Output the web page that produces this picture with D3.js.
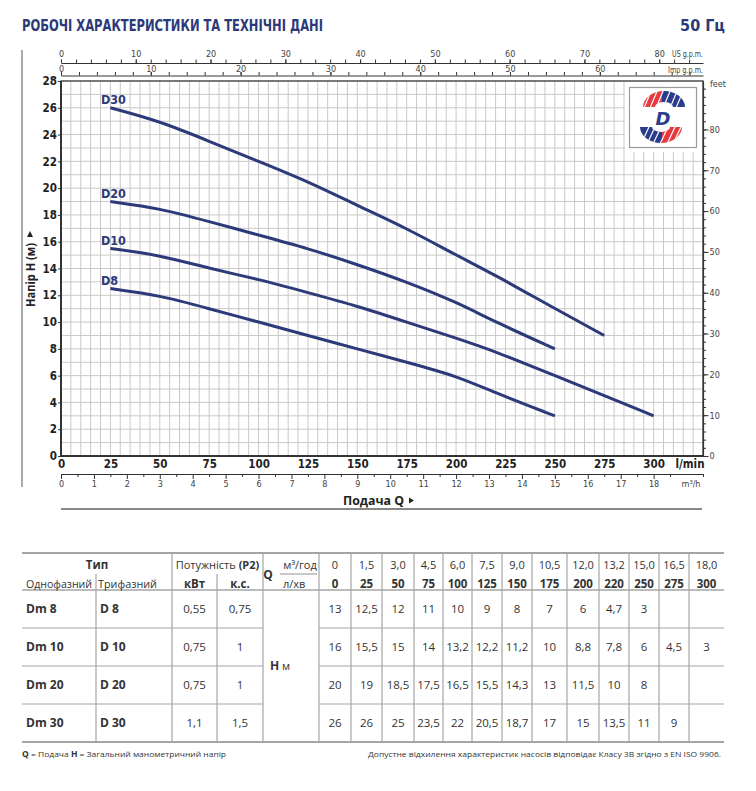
<!DOCTYPE html>
<html><head><meta charset="utf-8">
<script src="https://cdn.jsdelivr.net/npm/d3@7"></script>
<style>body{margin:0;background:#fff}</style>
</head><body><svg id="c" width="756" height="791"></svg>
<script>
// ---------- DATA ----------
const flowLmin = [0,25,50,75,100,125,150,175,200,220,250,275,300];
const flowM3h  = ["0","1,5","3,0","4,5","6,0","7,5","9,0","10,5","12,0","13,2","15,0","16,5","18,0"];
const modelsSingle = ["Dm 8","Dm 10","Dm 20","Dm 30"];
const modelsThree  = ["D 8","D 10","D 20","D 30"];
const curveNames   = ["D8","D10","D20","D30"];
const powerKW = ["0,55","0,75","0,75","1,1"];
const powerHP = ["0,75","1","1","1,5"];
const headD8  = [13,12.5,12,11,10,9,8,7,6,4.7,3,null,null];
const headD10 = [16,15.5,15,14,13.2,12.2,11.2,10,8.8,7.8,6,4.5,3];
const headD20 = [20,19,18.5,17.5,16.5,15.5,14.3,13,11.5,10,8,null,null];
const headD30 = [26,26,25,23.5,22,20.5,18.7,17,15,13.5,11,9,null];
const headSeries = [headD8, headD10, headD20, headD30];
const yTickLabels   = [0,2,4,6,8,10,12,14,16,18,20,22,24,26,28];
const xTickLabels   = [0,25,50,75,100,125,150,175,200,225,250,275,300];
const m3hTickLabels = [0,1,2,3,4,5,6,7,8,9,10,11,12,13,14,15,16,17,18];
const usTickLabels  = [0,10,20,30,40,50,60,70,80];
const impTickLabels = [0,10,20,30,40,50,60];
const feetTickLabels= [0,10,20,30,40,50,60,70,80];

// ---------- SETUP ----------
const svg = d3.select("#c");
const NAVY = "#2c3a7a";
const COND = "'Liberation Sans Narrow','DejaVu Sans Condensed','Arial Narrow',sans-serif";
const SANS = "'Open Sans','Noto Sans',sans-serif";
const P = {l:61, r:703, t:81, b:456};

const x = d3.scaleLinear([0,325],[P.l,P.r]);
const y = d3.scaleLinear([0,28],[P.b,P.t]);
const xUS  = d3.scaleLinear([0,325/3.78541],[P.l,P.r]);
const xImp = d3.scaleLinear([0,325/4.54609],[P.l,P.r]);
const xM3  = d3.scaleLinear([0,19.5],[P.l,P.r]);
const yFt  = d3.scaleLinear([0,28/0.3048],[P.b,P.t]);

// Title
svg.append("text").attr("x",22).attr("y",31).attr("font-family",COND).attr("font-weight","bold")
  .attr("font-size",16).attr("fill",NAVY).attr("textLength",301).attr("lengthAdjust","spacingAndGlyphs")
  .text("РОБОЧІ ХАРАКТЕРИСТИКИ ТА ТЕХНІЧНІ ДАНІ");
svg.append("text").attr("x",725).attr("y",31).attr("text-anchor","end").attr("font-family",COND)
  .attr("font-weight","bold").attr("font-size",16).attr("fill",NAVY).text("50 Гц");

// left vertical rule
svg.append("line").attr("x1",22).attr("x2",22).attr("y1",50).attr("y2",487).attr("stroke","#555").attr("stroke-width",1);

// Grid
const grid = svg.append("g").attr("stroke","#c9c9c9").attr("stroke-width",1);
grid.selectAll(".v").data(d3.range(5,325,5)).join("line")
  .attr("x1",d=>x(d)).attr("x2",d=>x(d)).attr("y1",P.t).attr("y2",P.b);
grid.selectAll(".h").data(d3.range(1,28,1)).join("line")
  .attr("x1",P.l).attr("x2",P.r).attr("y1",d=>y(d)).attr("y2",d=>y(d));

// Logo area
svg.append("rect").attr("x",625).attr("y",82).attr("width",77).attr("height",70).attr("fill","#fff");
svg.append("rect").attr("x",629.5).attr("y",87.5).attr("width",67).attr("height",60).attr("fill","#fff").attr("stroke","#9a9a9a").attr("stroke-width",1.2);
(function logo(){
  const g = svg.append("g");
  const defs = svg.append("defs");
  function halfRing(id,cx,cy,ro,ryo,ri,ryi,up){
    const s = up?1:0, s2 = up?0:1;
    const d = `M${cx-ro},${cy} A${ro},${ryo} 0 0 ${s} ${cx+ro},${cy} L${cx+ri},${cy} A${ri},${ryi} 0 0 ${s2} ${cx-ri},${cy} Z`;
    defs.append("clipPath").attr("id",id).append("path").attr("d",d);
  }
  halfRing("lt",664,107,21,16,9,5,true);
  const top = g.append("g").attr("clip-path","url(#lt)");
  top.append("rect").attr("x",640).attr("y",88).attr("width",22).attr("height",20).attr("fill","#e53a3f");
  top.append("rect").attr("x",662).attr("y",88).attr("width",25).attr("height",20).attr("fill","#2a3d8c");
  [648,654,660,667,674,680].forEach(px=>top.append("line").attr("x1",px-4).attr("x2",px+4).attr("y1",108).attr("y2",89).attr("stroke","#fff").attr("stroke-width",1.2));
  halfRing("lb",661,127,21,16,9,5,false);
  const bot = g.append("g").attr("clip-path","url(#lb)");
  bot.append("rect").attr("x",638).attr("y",126).attr("width",24).attr("height",20).attr("fill","#2a3d8c");
  bot.append("rect").attr("x",662).attr("y",126).attr("width",24).attr("height",20).attr("fill","#e53a3f");
  [645,651,657,664,671,677].forEach(px=>bot.append("line").attr("x1",px-4).attr("x2",px+4).attr("y1",144).attr("y2",127).attr("stroke","#fff").attr("stroke-width",1.2));
  g.append("text").attr("x",663).attr("y",125).attr("text-anchor","middle").attr("font-family","'DejaVu Sans',sans-serif")
    .attr("font-weight","bold").attr("font-style","italic").attr("font-size",18).attr("fill","#2a3d8c").text("D");
})();

// Frame
svg.append("rect").attr("x",P.l).attr("y",P.t).attr("width",P.r-P.l).attr("height",P.b-P.t)
  .attr("fill","none").attr("stroke","#333").attr("stroke-width",1.3);
svg.append("line").attr("x1",P.l).attr("x2",P.l).attr("y1",P.t).attr("y2",P.b).attr("stroke","#333").attr("stroke-width",2);
svg.append("line").attr("x1",P.l).attr("x2",P.r).attr("y1",P.b).attr("y2",P.b).attr("stroke","#333").attr("stroke-width",2);

function styleAxis(g,size,weight,color){
  g.select(".domain").attr("stroke","#333").attr("stroke-width",1.2);
  g.selectAll(".tick line").attr("stroke","#333").attr("stroke-width",1);
  g.selectAll("text").attr("font-family",COND).attr("font-size",size).attr("font-weight",weight).attr("fill",color);
}

// Left Y axis
const gy = svg.append("g").attr("transform",`translate(${P.l},0)`)
  .call(d3.axisLeft(y).tickValues(yTickLabels).tickSize(3).tickPadding(1).tickSizeOuter(0));
styleAxis(gy,11.5,"bold","#222"); gy.select(".domain").remove();

// Bottom l/min labels
const gx = svg.append("g").attr("transform",`translate(0,${P.b})`)
  .call(d3.axisBottom(x).tickValues(xTickLabels).tickSize(0).tickPadding(4).tickSizeOuter(0));
styleAxis(gx,11.5,"bold","#222"); gx.select(".domain").remove();
svg.append("text").attr("x",690).attr("y",468).attr("text-anchor","middle").attr("font-family",COND)
  .attr("font-weight","bold").attr("font-size",11.5).attr("fill","#222").text("l/min");

// m3/h axis
const M3Y = 474;
const gm = svg.append("g").attr("transform",`translate(0,${M3Y})`)
  .call(d3.axisBottom(xM3).tickValues(d3.range(0.5,19.6,1)).tickSize(3).tickFormat("").tickSizeOuter(0));
styleAxis(gm,9,"normal","#444");
const gm2 = svg.append("g").attr("transform",`translate(0,${M3Y})`)
  .call(d3.axisBottom(xM3).tickValues(m3hTickLabels).tickSize(5).tickPadding(1.5).tickSizeOuter(0));
styleAxis(gm2,9,"normal","#444"); gm2.select(".domain").remove();
svg.append("text").attr("x",691).attr("y",487).attr("text-anchor","middle").attr("font-family",COND)
  .attr("font-size",9).attr("fill","#444").text("m³/h");

// US gpm axis
const US_Y = 63;
const gu = svg.append("g").attr("transform",`translate(0,${US_Y})`)
  .call(d3.axisTop(xUS).tickValues(d3.range(0,85,2)).tickSize(3.5).tickFormat("").tickSizeOuter(0));
styleAxis(gu,9,"normal","#444");
const gu2 = svg.append("g").attr("transform",`translate(0,${US_Y})`)
  .call(d3.axisTop(xUS).tickValues(usTickLabels).tickSize(3.5).tickPadding(2.5).tickSizeOuter(0));
styleAxis(gu2,9,"normal","#444"); gu2.select(".domain").remove();
svg.append("text").attr("x",703).attr("y",57).attr("text-anchor","end").attr("font-family",COND)
  .attr("font-size",9).attr("fill","#444").attr("textLength",31).attr("lengthAdjust","spacingAndGlyphs").text("US g.p.m.");

// Imp gpm axis
const IMP_Y = 75.5;
const gi = svg.append("g").attr("transform",`translate(0,${IMP_Y})`)
  .call(d3.axisTop(xImp).tickValues(d3.range(0,72,2)).tickSize(3.5).tickFormat("").tickSizeOuter(0));
styleAxis(gi,9,"normal","#444");
const gi2 = svg.append("g").attr("transform",`translate(0,${IMP_Y})`)
  .call(d3.axisTop(xImp).tickValues(impTickLabels).tickSize(3.5).tickPadding(0.5).tickSizeOuter(0));
styleAxis(gi2,9,"normal","#444"); gi2.select(".domain").remove();
svg.append("text").attr("x",703).attr("y",72.5).attr("text-anchor","end").attr("font-family",COND)
  .attr("font-size",9).attr("fill","#444").attr("textLength",35).attr("lengthAdjust","spacingAndGlyphs").text("Imp g.p.m.");

// feet axis
const gf = svg.append("g").attr("transform",`translate(${P.r},0)`)
  .call(d3.axisRight(yFt).tickValues(d3.range(0,91,2)).tickSize(3).tickFormat("").tickSizeOuter(0));
styleAxis(gf,9,"normal","#444");
const gf2 = svg.append("g").attr("transform",`translate(${P.r},0)`)
  .call(d3.axisRight(yFt).tickValues(feetTickLabels).tickSize(5.5).tickPadding(1).tickSizeOuter(0));
styleAxis(gf2,9,"normal","#444"); gf2.select(".domain").remove();
svg.append("text").attr("x",710).attr("y",87).attr("font-family",COND).attr("font-size",9).attr("fill","#444").text("feet");

// Curves
const line = d3.line().x(d=>x(d.q)).y(d=>y(d.h)).curve(d3.curveBasis);
headSeries.forEach((hs,i)=>{
  const pts = flowLmin.map((q,j)=>({q,h:hs[j]})).filter(d=>d.q>=25 && d.h!=null);
  svg.append("path").attr("d",line(pts)).attr("fill","none").attr("stroke",NAVY).attr("stroke-width",3).attr("stroke-linecap","butt");
  svg.append("text").attr("x",x(pts[0].q)-9.5).attr("y",y(pts[0].h)-3.5).attr("font-family",COND)
    .attr("font-weight","bold").attr("font-size",12.5).attr("fill",NAVY).text(curveNames[i]);
});

// Axis titles
const ylab = svg.append("g").attr("transform","translate(35,275) rotate(-90)");
ylab.append("text").attr("text-anchor","middle").attr("font-family",SANS).attr("font-weight","bold")
  .attr("font-size",12).attr("fill","#222").attr("textLength",64).attr("lengthAdjust","spacingAndGlyphs").text("Напір H (м)");
ylab.append("path").attr("d","M38,-8 L44,-5 L38,-2 Z").attr("fill","#222");
svg.append("text").attr("x",343).attr("y",505).attr("font-family",SANS).attr("font-weight","bold")
  .attr("font-size",13).attr("fill","#222").attr("textLength",61).attr("lengthAdjust","spacingAndGlyphs").text("Подача Q");
svg.append("path").attr("d","M409,497.5 L414,500.5 L409,503.5 Z").attr("fill","#222");
svg.append("line").attr("x1",61).attr("x2",702).attr("y1",509).attr("y2",509).attr("stroke","#888").attr("stroke-width",2);

// ---------- TABLE ----------
const T = svg.append("g").attr("font-family",SANS).attr("fill","#333");
const colW = [32,31,32,29,29,30,30,35,32,30,30,30,35];
const flowX0 = 319;
const flowEdges = [flowX0]; colW.forEach(w=>flowEdges.push(flowEdges[flowEdges.length-1]+w));
const tTop = 553, hMid = 574, hBot = 590, rowH = 38, tRight = flowEdges[flowEdges.length-1];
const rowY = i => hBot + i*rowH;
const LC = "#a5a5a5";
function hl(x1,x2,yy,w){ T.append("line").attr("x1",x1).attr("x2",x2).attr("y1",yy).attr("y2",yy).attr("stroke",LC).attr("stroke-width",w||1.2); }
function vl(xx,y1,y2){ T.append("line").attr("x1",xx).attr("x2",xx).attr("y1",y1).attr("y2",y2).attr("stroke",LC).attr("stroke-width",1.2); }
hl(22,tRight,tTop,2); hl(22,tRight,hBot,1.5); hl(22,tRight,rowY(4),2);
[1,2,3].forEach(i=>{ hl(22,263,rowY(i)); hl(319,tRight,rowY(i)); });
[172,263].forEach(xx=>vl(xx,tTop,rowY(4)));
flowEdges.slice(0,-1).forEach(xx=>vl(xx,tTop,rowY(4)));
[96,217].forEach(xx=>vl(xx,hMid,rowY(4)));

function tt(xx,yy,s,opt){ opt=opt||{};
  const t = T.append("text").attr("x",xx).attr("y",yy).attr("text-anchor",opt.anchor||"middle")
    .attr("font-size",opt.size||11.5).attr("font-weight",opt.bold?"bold":"normal").text(s);
  if(opt.len) t.attr("textLength",opt.len).attr("lengthAdjust","spacingAndGlyphs");
  return t; }
tt(97,569,"Тип",{bold:true});
tt(26,587.5,"Однофазний",{size:11,anchor:"start",len:66});
tt(98,587.5,"Трифазний",{size:11,anchor:"start",len:59});
const pt = tt(217.5,569,"Потужність ",{size:11}); pt.append("tspan").attr("font-weight","bold").text("(P2)");
tt(194.5,587.5,"кВт",{bold:true});
tt(240,587.5,"к.с.",{bold:true});
tt(268,578.5,"Q",{bold:true,size:12});
tt(300,569,"м³/год",{size:11});
tt(283,587.5,"л/хв",{size:11,anchor:"start"});
T.append("line").attr("x1",280).attr("x2",317).attr("y1",574).attr("y2",574).attr("stroke","#777").attr("stroke-width",0.8);
flowLmin.forEach((q,j)=>{
  const cx = (flowEdges[j]+flowEdges[j+1])/2;
  tt(cx,569,flowM3h[j],{size:11});
  tt(cx,587.5,String(q),{bold:true,size:11.5});
});
const fmt = v => String(v).replace(".",",");
modelsSingle.forEach((m,i)=>{
  const cy = rowY(i)+rowH/2+4;
  tt(26,cy,m,{bold:true,anchor:"start",size:12});
  tt(100,cy,modelsThree[i],{bold:true,anchor:"start",size:12});
  tt(194.5,cy,powerKW[i]); tt(240,cy,powerHP[i]);
  headSeries[i].forEach((v,j)=>{ if(v!=null) tt((flowEdges[j]+flowEdges[j+1])/2,cy,fmt(v)); });
});
const hm = tt(270,(hBot+rowY(4))/2+4,"H",{bold:true,anchor:"start",size:12});
hm.append("tspan").attr("font-weight","normal").attr("font-size",11).text(" м");

// Footnotes
const fn = svg.append("g").attr("font-family",SANS).attr("font-size",8).attr("fill","#333");
const f1 = fn.append("text").attr("x",22).attr("y",757).attr("textLength",204).attr("lengthAdjust","spacingAndGlyphs");
f1.append("tspan").attr("font-weight","bold").text("Q");
f1.append("tspan").text(" = Подача  ");
f1.append("tspan").attr("font-weight","bold").text("H");
f1.append("tspan").text(" = Загальний манометричний напір");
fn.append("text").attr("x",721).attr("y",757).attr("text-anchor","end").attr("textLength",353).attr("lengthAdjust","spacingAndGlyphs")
  .text("Допустне відхилення характеристик насосів відповідає Класу 3B згідно з EN ISO 9906.");
</script></body></html>
